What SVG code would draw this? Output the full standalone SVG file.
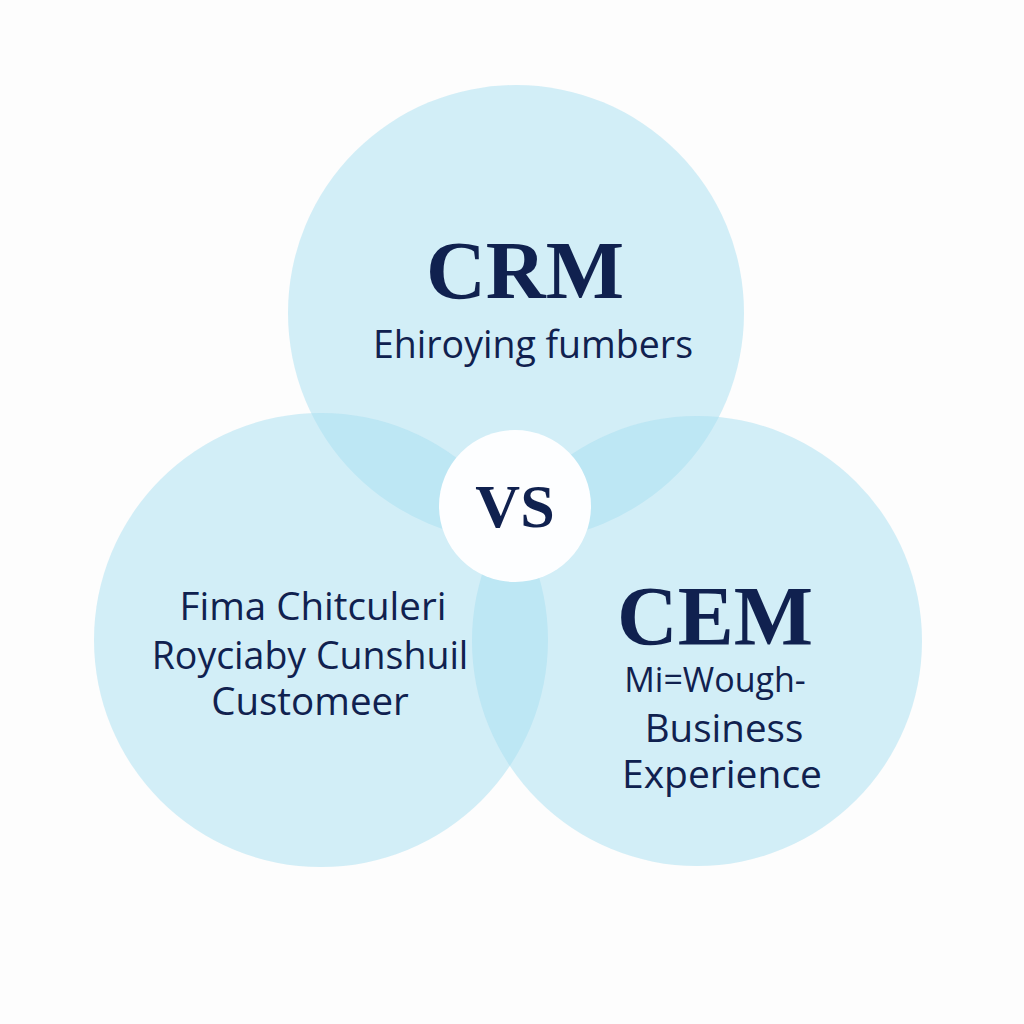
<svg xmlns="http://www.w3.org/2000/svg" width="1024" height="1024" viewBox="0 0 1024 1024">
<style>
.c{fill:rgb(167,223,241);fill-opacity:0.5}
.t{fill:#10214f;text-anchor:middle}
.serif{font-family:"Liberation Serif","DejaVu Serif",serif;font-weight:bold}
.sans{font-family:"Open Sans","Noto Sans","Liberation Sans",sans-serif}
</style>
<rect width="1024" height="1024" fill="#fdfdfd"/>
<g id="crm">
<circle class="c" cx="516" cy="313" r="228"/>
<text class="t serif" x="525" y="298" font-size="83">CRM</text>
<text class="t sans" x="533" y="358" font-size="37.5">Ehiroying fumbers</text>
</g>
<g id="customer">
<circle class="c" cx="321" cy="640" r="227"/>
<text class="t sans" x="313" y="620" font-size="38.5">Fima Chitculeri</text>
<text class="t sans" x="310" y="669" font-size="37.5">Royciaby Cunshuil</text>
<text class="t sans" x="310" y="715" font-size="38.5">Customeer</text>
</g>
<g id="cem">
<circle class="c" cx="697" cy="641" r="225"/>
<text class="t serif" x="715" y="645" font-size="84">CEM</text>
<text class="t sans" x="715" y="692" font-size="34">Mi=Wough-</text>
<text class="t sans" x="724" y="742" font-size="38.5">Business</text>
<text class="t sans" x="722" y="788" font-size="39">Experience</text>
</g>
<g id="vs">
<circle cx="515" cy="506" r="76" fill="#fdfeff"/>
<text class="t serif" x="515" y="527" font-size="62">VS</text>
</g>
<g id="connectors"/>
</svg>
